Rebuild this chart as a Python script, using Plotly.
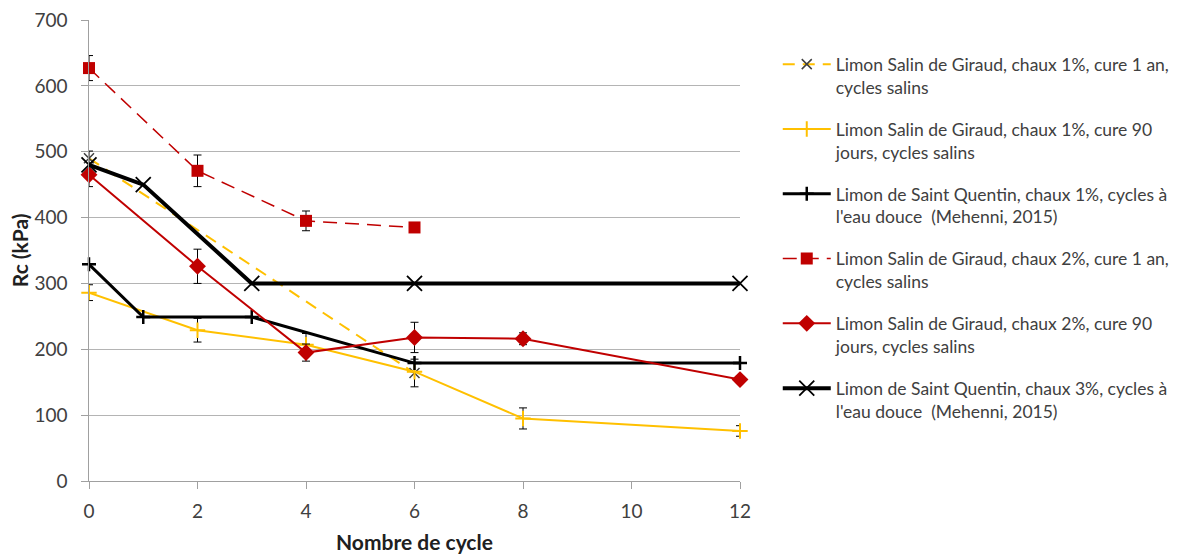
import plotly.graph_objects as go

# ---- data ----
x_sg1_1an = [0, 6]
y_sg1_1an = [490, 164]
e_sg1_1an = [11, 21]

x_sg1_90j = [0, 2, 4, 6, 8, 12]
y_sg1_90j = [286, 229, 207, 166, 95, 76]
e_sg1_90j = [12, 18, 17, 0, 16, 8]

x_sq1 = [0, 1, 3, 6, 12]
y_sq1 = [329, 249, 249, 179, 179]

x_sg2_1an = [0, 2, 4, 6]
y_sg2_1an = [627, 471, 395, 385]
e_sg2_1an = [19, 24, 15, 0]

x_sg2_90j = [0, 2, 4, 6, 8, 12]
y_sg2_90j = [465, 326, 195, 218, 216, 154]
e_sg2_90j = [18, 26, 13, 23, 9, 6]

x_sq3 = [0, 1, 3, 6, 12]
y_sq3 = [480, 450, 300, 300, 300]

names = [
    "Limon Salin de Giraud, chaux 1%, cure 1 an,<br>cycles salins",
    "Limon Salin de Giraud, chaux 1%, cure 90<br>jours, cycles salins",
    "Limon de Saint Quentin, chaux 1%, cycles à<br>l'eau douce  (Mehenni, 2015)",
    "Limon Salin de Giraud, chaux 2%, cure 1 an,<br>cycles salins",
    "Limon Salin de Giraud, chaux 2%, cure 90<br>jours, cycles salins",
    "Limon de Saint Quentin, chaux 3%, cycles à<br>l'eau douce  (Mehenni, 2015)",
]
xticks = [0, 2, 4, 6, 8, 10, 12]
yticks = [0, 100, 200, 300, 400, 500, 600, 700]
x_title = "Nombre de cycle"
y_title = "Rc (kPa)"

YEL = "#FFC000"
RED = "#C00000"
BLK = "#000000"
GRY = "#404040"

def err(arr):
    return dict(type="data", array=arr, visible=True, color="#000000", thickness=1, width=4)

fig = go.Figure()
fig.add_trace(go.Scatter(
    x=x_sg1_1an, y=y_sg1_1an, name=names[0], legendgroup="g1", mode="lines+markers",
    line=dict(color=YEL, width=2, dash="12px,8px"),
    marker=dict(symbol="x-thin-open", size=10, color=GRY, line=dict(color=GRY, width=1.5)),
    error_y=err(e_sg1_1an), cliponaxis=False))
fig.add_trace(go.Scatter(
    x=x_sg1_90j, y=y_sg1_90j, name=names[1], legendgroup="g2", mode="lines+markers",
    line=dict(color=YEL, width=2),
    marker=dict(symbol="cross-thin-open", size=11, color=YEL, line=dict(color=YEL, width=2)),
    error_y=err(e_sg1_90j), cliponaxis=False))
fig.add_trace(go.Scatter(
    x=x_sq1, y=y_sq1, name=names[2], legendgroup="g3", mode="lines+markers",
    line=dict(color=BLK, width=3),
    marker=dict(symbol="cross-thin-open", size=10, color=BLK, line=dict(color=BLK, width=2.5)),
    cliponaxis=False))
fig.add_trace(go.Scatter(
    x=x_sg2_1an, y=y_sg2_1an, name=names[3], legendgroup="g4", mode="lines+markers",
    line=dict(color=RED, width=1.5, dash="14px,8px"),
    marker=dict(symbol="square", size=12, color=RED),
    error_y=err(e_sg2_1an), cliponaxis=False))
fig.add_trace(go.Scatter(
    x=x_sg2_90j, y=y_sg2_90j, name=names[4], legendgroup="g5", mode="lines+markers",
    line=dict(color=RED, width=2),
    marker=dict(symbol="diamond", size=13, color=RED),
    error_y=err(e_sg2_90j), cliponaxis=False))
fig.add_trace(go.Scatter(
    x=x_sq3, y=y_sq3, name=names[5], legendgroup="g6", mode="lines+markers",
    line=dict(color=BLK, width=4),
    marker=dict(symbol="x-thin-open", size=15, color=BLK, line=dict(color=BLK, width=1.8)),
    cliponaxis=False))

fig.update_layout(
    width=1179, height=546,
    margin=dict(l=81, r=447, t=12, b=73),
    paper_bgcolor="white", plot_bgcolor="white",
    font=dict(family="Lato, Open Sans, sans-serif", color="#404040", size=18),
    showlegend=True,
    legend=dict(
        x=1.058, xanchor="left", y=0.943, yanchor="top",
        font=dict(family="Lato, Open Sans, sans-serif", size=17.5, color="#404040"),
        itemwidth=48, tracegroupgap=16.3, traceorder="grouped", valign="top",
        bgcolor="rgba(0,0,0,0)",
    ),
    xaxis=dict(
        range=[0, 12], tickvals=xticks, ticktext=[str(v) for v in xticks],
        showgrid=False, zeroline=False, showline=True, linecolor="#a0a0a0", linewidth=1,
        ticks="outside", ticklen=7, tickcolor="#a0a0a0", automargin=False,
        ticklabelstandoff=6,
        tickfont=dict(size=19, color="#404040"),
    ),
    yaxis=dict(
        range=[0, 700], tickvals=yticks, ticktext=[str(v) + "\u00a0\u00a0" for v in yticks],
        showgrid=True, gridcolor="#b4b4b4", gridwidth=1, zeroline=False,
        showline=True, linecolor="#a0a0a0", linewidth=1,
        ticks="outside", ticklen=7, tickcolor="#a0a0a0", automargin=False,
        ticklabeloverflow="allow",
        tickfont=dict(size=19, color="#404040"),
    ),
    annotations=[
        dict(text="<b>" + x_title + "</b>", xref="paper", yref="paper", x=0.5, y=-0.132,
             xanchor="center", yanchor="middle", showarrow=False,
             font=dict(size=21, color="#202020")),
        dict(text="<b>" + y_title + "</b>", xref="paper", yref="paper", x=-0.1065, y=0.5,
             xanchor="center", yanchor="middle", showarrow=False, textangle=-90,
             font=dict(size=21, color="#202020")),
    ],
)

fig.write_html("out.html")
